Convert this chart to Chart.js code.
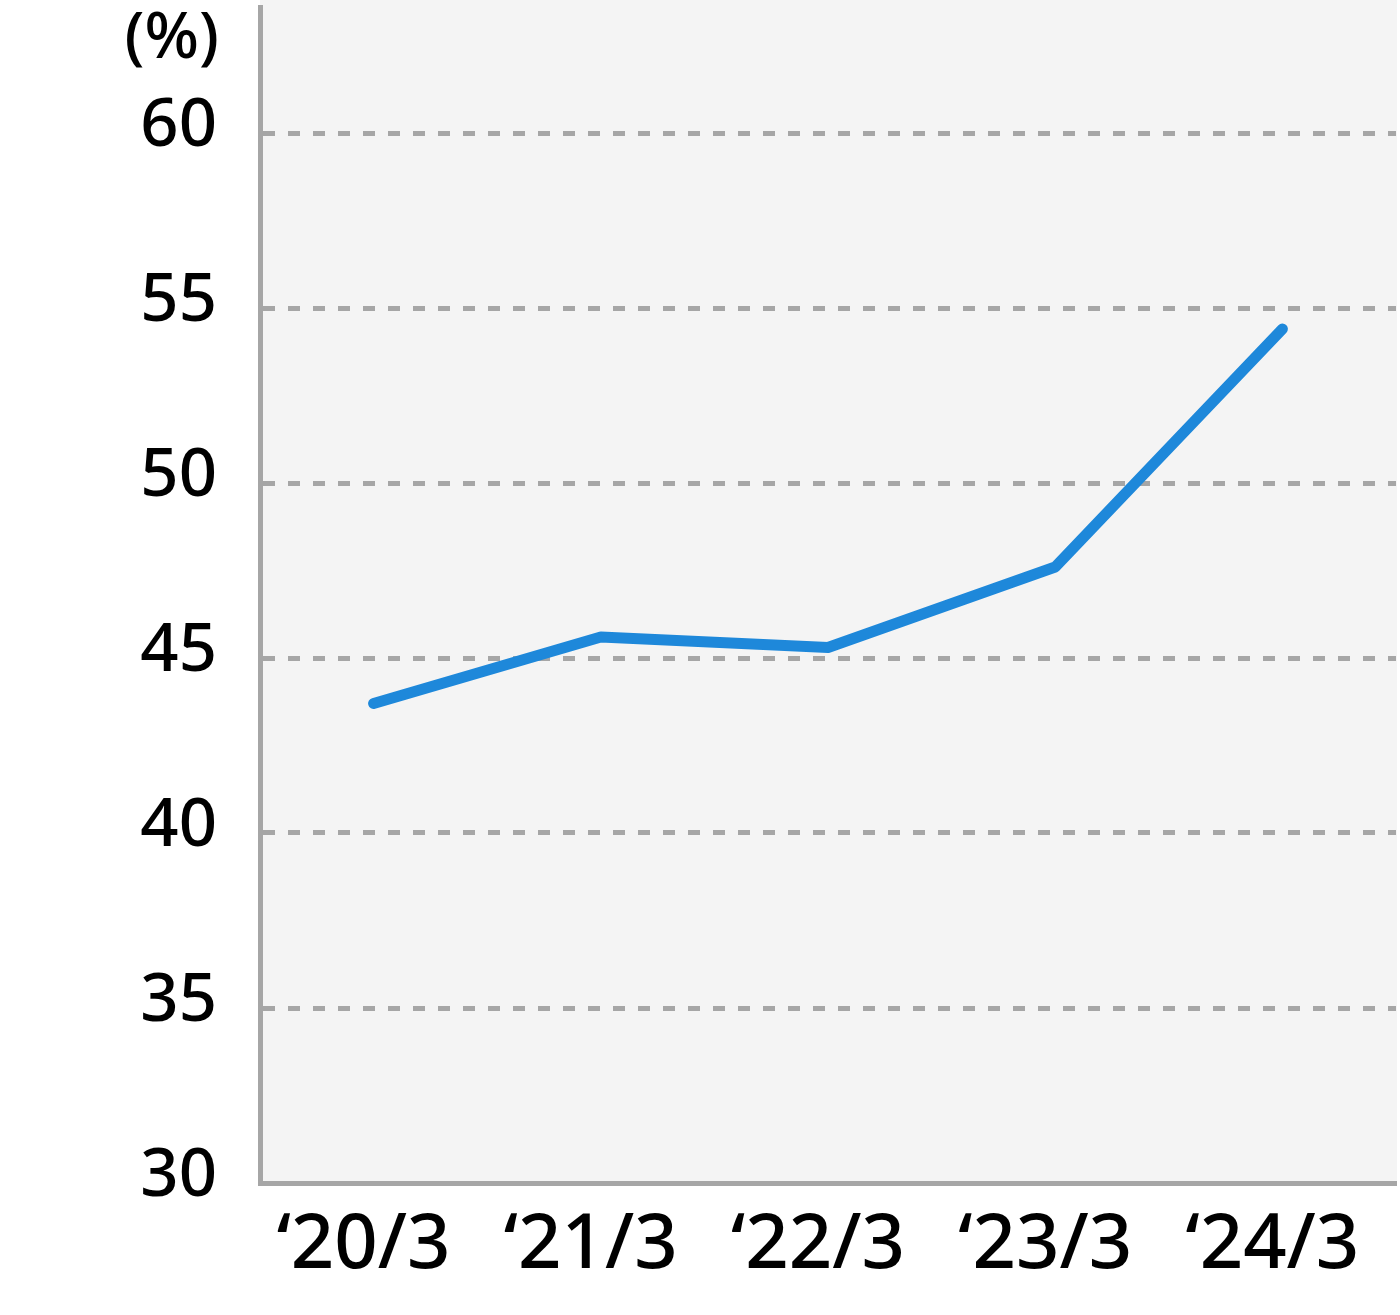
<!DOCTYPE html>
<html lang="ja">
<head>
<meta charset="UTF-8">
<title>Chart</title>
<script src="https://cdn.jsdelivr.net/npm/chart.js"></script>
<style>
  html, body { margin: 0; padding: 0; background: #fff; }
  #wrap { width: 1400px; height: 1315px; }
</style>
</head>
<body>
<div id="wrap"><canvas id="chart" width="1400" height="1315"></canvas></div>
<script>
// data
const periods = ["\u201820/3", "\u201821/3", "\u201822/3", "\u201823/3", "\u201824/3"];
const ratio = [43.7, 45.6, 45.3, 47.6, 54.4];
const yTicks = [30, 35, 40, 45, 50, 55, 60];
const unitLabel = "(%)";

const FONT = "'Noto Sans', 'Open Sans', sans-serif";

// grey plot background, reaches the top edge
const bgPlugin = {
    id: "bg",
    beforeDraw(chart) {
        const a = chart.chartArea;
        const ctx = chart.ctx;
        ctx.save();
        ctx.fillStyle = "#f4f4f4";
        ctx.fillRect(a.left, 0, a.right - a.left + 1, a.bottom);
        ctx.restore();
    }
};

// "(%)" above the y labels
const unitPlugin = {
    id: "unit",
    afterDraw(chart) {
        const ctx = chart.ctx;
        ctx.save();
        ctx.fillStyle = "#000";
        ctx.font = "500 64px " + FONT;
        ctx.textAlign = "right";
        ctx.textBaseline = "middle";
        ctx.fillText(unitLabel, 219, 40);
        ctx.restore();
    }
};

new Chart(document.getElementById("chart"), {
    type: "line",
    data: {
        labels: periods,
        datasets: [{
            data: ratio,
            borderColor: "#1e88da",
            borderWidth: 11,
            borderCapStyle: "round",
            borderJoinStyle: "round",
            pointRadius: 0,
            tension: 0,
            fill: false
        }]
    },
    options: {
        responsive: false,
        animation: false,
        layout: { padding: { top: 7, right: 4, left: 0, bottom: 0 } },
        plugins: {
            legend: { display: false },
            tooltip: { enabled: false }
        },
        scales: {
            x: {
                offset: true,
                grid: { display: false },
                border: { display: true, color: "#a6a6a6", width: 5 },
                ticks: {
                    color: "#000",
                    font: { family: FONT, size: 76, weight: "500" },
                    padding: 10,
                    labelOffset: -10,
                    maxRotation: 0,
                    autoSkip: false
                },
                afterFit(scale) {
                    scale.height = 132;
                    scale.paddingLeft = 0;
                    scale.paddingRight = 0;
                }
            },
            y: {
                min: 30,
                max: 63.6,
                afterBuildTicks(scale) {
                    scale.ticks = yTicks.map(v => ({ value: v }));
                },
                grid: {
                    color: "#a6a6a6",
                    lineWidth: 5,
                    drawTicks: false
                },
                border: { display: true, color: "#a6a6a6", width: 5, dash: [12, 13] },
                ticks: {
                    color: "#000",
                    font: { family: FONT, size: 67, weight: "500" },
                    padding: 43,
                    labelOffset: -6
                },
                afterFit(scale) {
                    scale.width = 260;
                    scale.paddingTop = 0;
                    scale.paddingBottom = 0;
                }
            }
        }
    },
    plugins: [bgPlugin, unitPlugin]
});
</script>
</body>
</html>
